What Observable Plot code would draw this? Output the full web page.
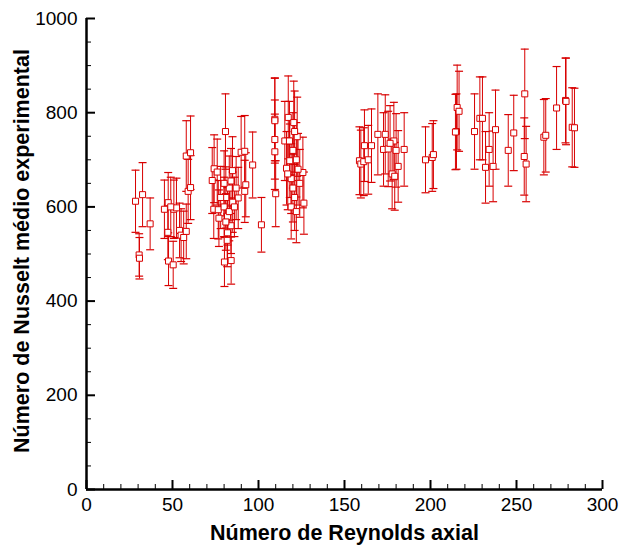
<!DOCTYPE html>
<html><head><meta charset="utf-8">
<script src="https://cdn.jsdelivr.net/npm/d3@7"></script>
<script src="https://cdn.jsdelivr.net/npm/@observablehq/plot@0.6"></script>
<style>html,body{margin:0;padding:0;background:#fff}</style>
</head><body><div id="chart"></div>
<script>
// Número de Reynolds axial (x)
const reynolds = [
  28.5,32.6,37,30.6,30.8,
  45.3,47.5,47.3,47.7,50.4,50.8,52.3,54.1,55,58,56.5,58,60.5,59.1,60.5,49,
  73.1,74.2,76,74,76.6,80.8,80.2,84.1,81.8,84.9,89.9,92,96.6,92.6,92,88.2,80,81,82,83,84,82,85,83,80,84,81,86,78,77,87,101.7,
  109.5,109.5,109.5,109.5,110,115.3,116.3,117.3,120.5,122.5,125.8,126.4,118.2,119,120,121,122,120,123,119,121,124,118,122,117,
  158.7,159.5,161.6,161.2,163.8,165.7,169.4,173.7,172.7,175.4,178.7,181.2,177.7,179.2,184.7,197.1,201,201.7,176.5,180,
  215.5,216.6,215.1,214.5,225.6,228.7,230.2,237.8,234.1,232,236.4,245.2,248.4,
  254.8,254.5,255.6,265.9,267,273.3,278.5,278.8,282.4,283.7
];
// Número de Nusselt médio experimental (y)
const nusselt = [
  612,626,564,498,491,
  595,609,546,485,477,595,598,550,540,548,535,708,715,633,641,600,
  656,681,674,595,594,760,483,486,529,677,716,718,689,647,633,619,600,620,580,640,560,545,610,590,650,655,568,600,620,576,640,562,
  786,783,743,717,628,740,682,790,779,749,673,608,698,660,640,620,700,720,680,600,760,650,740,590,670,
  698,691,730,696,700,730,754,754,722,723,740,686,670,665,722,700,705,711,735,720,
  811,803,760,759,760,788,788,764,722,684,686,720,757,
  840,707,691,748,752,810,826,824,769,768
];
// Incerteza (meia barra de erro)
const erro = [
  66,68,55,45,44,
  62,64,58,52,50,62,63,58,56,58,56,75,78,68,68,63,
  70,72,70,62,62,80,52,50,56,72,76,76,70,68,66,65,63,65,61,68,59,57,64,62,69,69,60,63,66,60,67,58,
  88,90,84,80,70,84,78,88,88,84,75,66,78,74,72,70,79,80,76,68,86,72,84,66,76,
  72,72,76,72,73,78,86,84,78,80,82,76,74,72,78,70,72,72,80,78,
  90,85,80,80,80,88,88,84,78,76,75,76,80,
  95,82,80,80,78,88,90,92,84,84
];
const xMajorTicks = [0,50,100,150,200,250,300];
const xMinorTicks = [10,20,30,40,60,70,80,90,110,120,130,140,160,170,180,190,210,220,230,240,260,270,280,290];
const yMajorTicks = [0,200,400,600,800,1000];
const yMinorTicks = [50,100,150,250,300,350,450,500,550,650,700,750,850,900,950];

const pontos = reynolds.map((x, i) => ({x, y: nusselt[i], e: erro[i]}));
const red = "#d80000";
const cap = {draw(context, size) { const r = Math.sqrt(size / Math.PI); context.moveTo(-r, 0); context.lineTo(r, 0); }};

const chart = Plot.plot({
  width: 621, height: 552,
  marginLeft: 86, marginRight: 19, marginTop: 18, marginBottom: 63,
  x: {domain: [0, 300]},
  y: {domain: [0, 1000]},
  style: {fontFamily: "'Liberation Sans', Arial, sans-serif", fontSize: "19px", color: "black", background: "white", overflow: "visible"},
  marks: [
    Plot.ruleX(pontos, {x: "x", y1: d => d.y - d.e, y2: d => d.y + d.e, stroke: red, strokeWidth: 1}),
    Plot.dot(pontos, {x: "x", y: d => d.y - d.e, symbol: cap, r: 4, stroke: red, strokeWidth: 1.2}),
    Plot.dot(pontos, {x: "x", y: d => d.y + d.e, symbol: cap, r: 4, stroke: red, strokeWidth: 1.2}),
    Plot.dot(pontos, {x: "x", y: "y", symbol: "square", r: 3.4, stroke: red, fill: "white", strokeWidth: 1}),
    Plot.axisX(xMinorTicks, {tickSize: -5, text: null, label: null, strokeWidth: 1}),
    Plot.axisX(xMajorTicks, {tickSize: -9, text: null, label: null, strokeWidth: 2}),
    Plot.axisX(xMajorTicks, {tickSize: 0, tickPadding: 8, label: null, fontSize: 19, tickFormat: d => String(d)}),
    Plot.axisY(yMinorTicks, {tickSize: -5, text: null, label: null, strokeWidth: 1}),
    Plot.axisY(yMajorTicks, {tickSize: -9, text: null, label: null, strokeWidth: 2}),
    Plot.axisY(yMajorTicks, {tickSize: 0, tickPadding: 9, label: null, fontSize: 19, tickFormat: d => String(d)}),
    Plot.ruleX([0], {strokeWidth: 2.5}),
    Plot.ruleY([0], {strokeWidth: 2.5}),
    Plot.text(["Número de Reynolds axial"], {frameAnchor: "bottom", dy: 50, fontSize: 21.5, fontWeight: "bold", textAnchor: "middle", text: d => d}),
    Plot.text(["Número de Nusselt médio experimental"], {frameAnchor: "left", dx: -64, dy: -3, rotate: -90, fontSize: 21.5, fontWeight: "bold", textAnchor: "middle", text: d => d})
  ]
});
document.getElementById("chart").appendChild(chart);
</script>
</body></html>
